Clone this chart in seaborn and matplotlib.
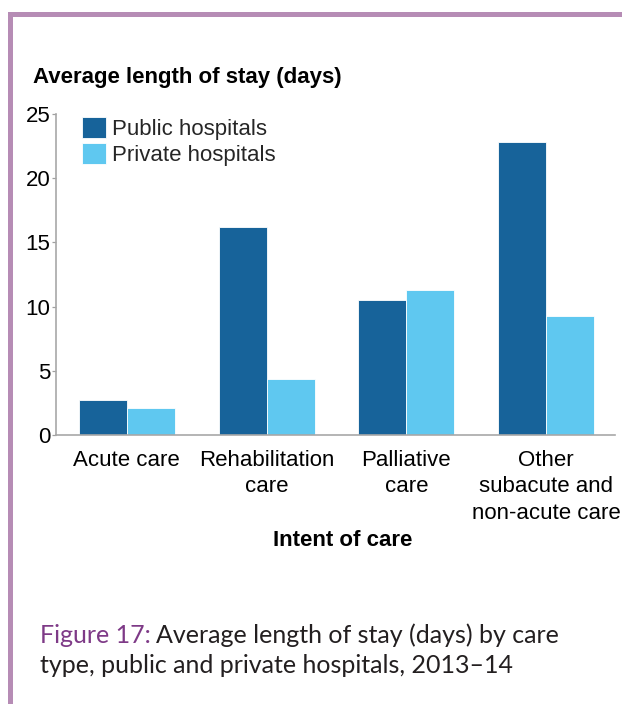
import matplotlib
matplotlib.use("Agg")
import matplotlib.pyplot as plt
import seaborn as sns
import pandas as pd
from matplotlib.patches import Rectangle

categories = ["Acute care", "Rehabilitation\ncare", "Palliative\ncare",
              "Other\nsubacute and\nnon-acute care"]
series_names = ["Public hospitals", "Private hospitals"]
public_values = [2.7, 16.2, 10.5, 22.8]
private_values = [2.1, 4.4, 11.3, 9.3]
yticks = [0, 5, 10, 15, 20, 25]
colors = ["#17639A", "#5FC8F0"]

df = pd.DataFrame({
    "category": categories * 2,
    "series": [series_names[0]] * 4 + [series_names[1]] * 4,
    "value": public_values + private_values,
})

sns.set_theme(style="white")
plt.rcParams["font.family"] = ["Liberation Sans", "DejaVu Sans"]

W, H = 622, 704
fig = plt.figure(figsize=(W / 100, H / 100), dpi=100)
ax_l, ax_r, ax_b, ax_t = 56, 615, 435, 114
ax = fig.add_axes([ax_l / W, 1 - ax_b / H, (ax_r - ax_l) / W, (ax_b - ax_t) / H])

sns.barplot(data=df, x="category", y="value", hue="series", order=categories,
            hue_order=series_names, palette=colors, width=0.686, ax=ax,
            edgecolor="white", linewidth=0.6, saturation=1)

ax.set_xlim(-0.507, 3.493)
ax.set_ylim(0, 25)
ax.set_yticks(yticks)
ax.set_yticklabels([str(t) for t in yticks], fontsize=16, color="black")
ax.tick_params(axis="y", length=3, width=0.9, color="#A0A0A0", pad=1, left=True)
ax.tick_params(axis="x", length=0, pad=11, labelsize=16, labelcolor="black")
for lab in ax.get_xticklabels():
    lab.set_linespacing(1.32)
for s in ["top", "right"]:
    ax.spines[s].set_visible(False)
for s in ["left", "bottom"]:
    ax.spines[s].set_color("#A8A8A8")
    ax.spines[s].set_linewidth(1.2)

ax.set_ylabel("")
ax.set_xlabel("Intent of care", fontsize=16, fontweight="bold", color="black")
ax.xaxis.set_label_coords((343 - ax_l) / (ax_r - ax_l), (ax_b - 540) / (ax_b - ax_t))
ax.xaxis.label.set_verticalalignment("center")

leg = ax.legend(loc="upper left", bbox_to_anchor=((82 - ax_l) / (ax_r - ax_l), 1 - 3 / (ax_b - ax_t)),
                frameon=False, fontsize=16, handlelength=1.1, handleheight=1.1,
                labelspacing=0.12, handletextpad=0.25, borderpad=0, borderaxespad=0)

fig.text(33 / W, 1 - 77 / H, "Average length of stay (days)", fontsize=16,
         fontweight="bold", ha="left", va="center", color="black")

# frame border
border = "#B68CB5"
fig.add_artist(Rectangle((8 / W, 1 - 17 / H), (W - 8) / W, 5 / H, transform=fig.transFigure,
                         facecolor=border, edgecolor="none"))
fig.add_artist(Rectangle((8 / W, 0), 5 / W, 1 - 12 / H, transform=fig.transFigure,
                         facecolor=border, edgecolor="none"))

# caption
cap_font = ["Lato", "DejaVu Sans"]
t1 = fig.text(40 / W, 1 - 643 / H, "Figure 17:", fontsize=18, family=cap_font,
              color="#7E3A87", ha="left", va="baseline")
fig.canvas.draw()
r = fig.canvas.get_renderer()
bb = t1.get_window_extent(r)
fig.text((bb.x1 + 5) / W, 1 - 643 / H, "Average length of stay (days) by care", fontsize=18,
         family=cap_font, color="#231F20", ha="left", va="baseline")
fig.text(40 / W, 1 - 673 / H, "type, public and private hospitals, 2013\u201314", fontsize=18,
         family=cap_font, color="#231F20", ha="left", va="baseline")

fig.savefig("out.png", dpi=100)
